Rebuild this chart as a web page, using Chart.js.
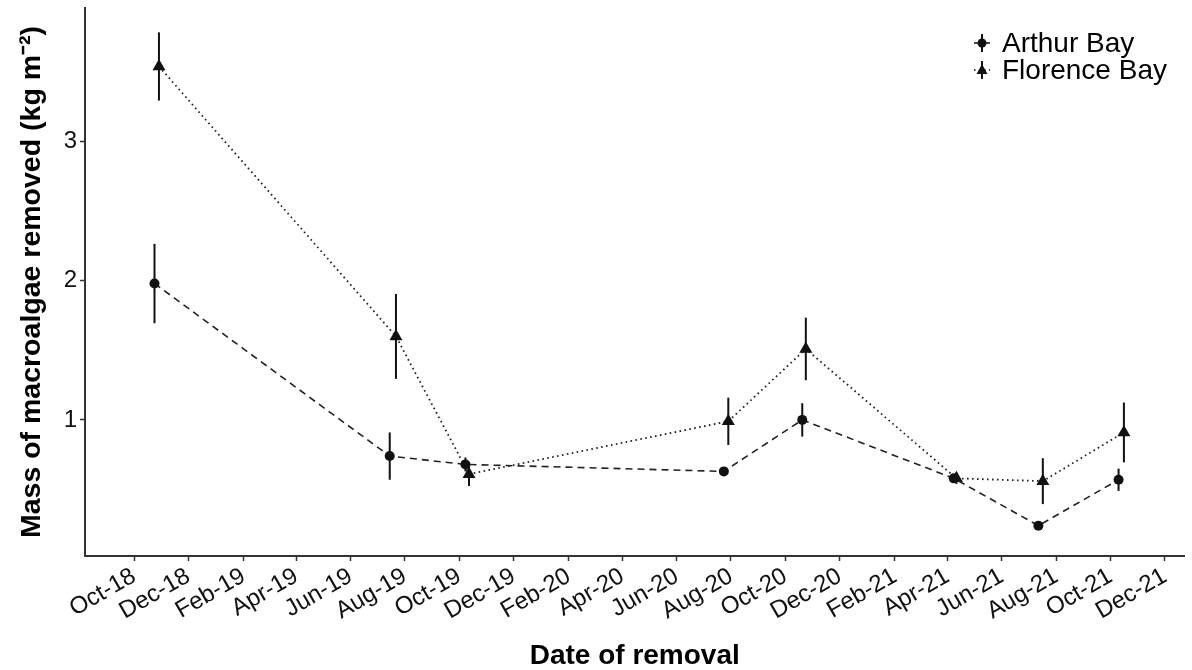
<!DOCTYPE html>
<html>
<head>
<meta charset="utf-8">
<title>Macroalgae removal</title>
<script src="https://cdn.jsdelivr.net/npm/chart.js@4.4.1/dist/chart.umd.min.js"></script>
<style>
  html, body { margin: 0; padding: 0; background: #fff; }
  #wrap { width: 1192px; height: 670px; }
</style>
</head>
<body>
<div id="wrap"><canvas id="chart" width="1192" height="670"></canvas></div>
<script>
// ---- Data: mean mass removed per site visit, with standard errors ----
const arthurDates = ['2018-10-24', '2019-07-15', '2019-10-08', '2020-07-24', '2020-10-20', '2021-04-08', '2021-07-12', '2021-10-10'];
const arthurMass  = [1.98, 0.74, 0.68, 0.63, 1.00, 0.58, 0.24, 0.57];
const arthurSE    = [0.285, 0.17, 0.05, 0.02, 0.12, 0.025, 0.02, 0.08];

const florenceDates = ['2018-10-29', '2019-07-22', '2019-10-12', '2020-07-29', '2020-10-24', '2021-04-11', '2021-07-17', '2021-10-16'];
const florenceMass  = [3.54, 1.60, 0.61, 0.99, 1.51, 0.58, 0.56, 0.91];
const florenceSE    = [0.245, 0.305, 0.085, 0.17, 0.225, 0.04, 0.165, 0.215];

const tickMonths = ['2018-10', '2018-12', '2019-02', '2019-04', '2019-06', '2019-08', '2019-10', '2019-12',
                    '2020-02', '2020-04', '2020-06', '2020-08', '2020-10', '2020-12',
                    '2021-02', '2021-04', '2021-06', '2021-08', '2021-10', '2021-12'];
const yTicks = [1, 2, 3];
const monthNames = ['Jan', 'Feb', 'Mar', 'Apr', 'May', 'Jun', 'Jul', 'Aug', 'Sep', 'Oct', 'Nov', 'Dec'];

const FONT = "'Liberation Sans', Arial, Helvetica, sans-serif";
const INK = '#111';

// days since epoch, so a plain linear scale can carry the dates
const toDay = s => {
  const [y, m, d] = s.split('-').map(Number);
  return Date.UTC(y, m - 1, d || 1) / 864e5;
};
const monthLabel = s => {
  const [y, m] = s.split('-');
  return monthNames[+m - 1] + '-' + y.slice(2);
};
const points = (dates, vals) => dates.map((d, i) => ({ x: toDay(d), y: vals[i] }));

// ---- Vertical error bars (mean +/- SE) ----
const errorBars = {
  id: 'errorBars',
  afterDatasetsDraw(chart) {
    const { ctx, scales: { x, y } } = chart;
    ctx.save();
    ctx.strokeStyle = INK;
    ctx.lineWidth = 2;
    chart.data.datasets.forEach(ds => {
      ds.data.forEach((p, i) => {
        const px = x.getPixelForValue(p.x);
        ctx.beginPath();
        ctx.moveTo(px, y.getPixelForValue(p.y - ds.errors[i]));
        ctx.lineTo(px, y.getPixelForValue(p.y + ds.errors[i]));
        ctx.stroke();
      });
    });
    ctx.restore();
  }
};

// ---- Legend in the top-right corner, ggplot style ----
const siteLegend = {
  id: 'siteLegend',
  afterDraw(chart) {
    const { ctx } = chart;
    const gx = 982, tx = 1002;
    ctx.save();
    chart.data.datasets.forEach((ds, i) => {
      const cy = 43 + i * 27;
      ctx.strokeStyle = INK;
      ctx.lineWidth = 1.5;
      ctx.setLineDash(ds.borderDash);
      ctx.beginPath();
      ctx.moveTo(gx - 8, cy);
      ctx.lineTo(gx + 8, cy);
      ctx.stroke();
      ctx.setLineDash([]);
      ctx.lineWidth = 2;
      ctx.beginPath();
      ctx.moveTo(gx, cy - 9);
      ctx.lineTo(gx, cy + 9);
      ctx.stroke();
      ctx.fillStyle = INK;
      ctx.beginPath();
      if (ds.pointStyle === 'circle') {
        ctx.arc(gx, cy, 4.5, 0, Math.PI * 2);
      } else {
        ctx.moveTo(gx, cy - 6);
        ctx.lineTo(gx + 5.5, cy + 4);
        ctx.lineTo(gx - 5.5, cy + 4);
        ctx.closePath();
      }
      ctx.fill();
      ctx.fillStyle = '#000';
      ctx.font = '28px ' + FONT;
      ctx.textBaseline = 'middle';
      ctx.fillText(ds.label, tx, cy + 1);
    });
    ctx.restore();
  }
};

const axisGrid = { display: true, drawOnChartArea: false, drawTicks: true, tickLength: 5, tickColor: '#333', tickWidth: 1.5 };
const axisBorder = { display: true, color: '#333', width: 2 };

new Chart(document.getElementById('chart'), {
  type: 'line',
  data: {
    datasets: [
      {
        label: 'Arthur Bay',
        data: points(arthurDates, arthurMass),
        errors: arthurSE,
        borderColor: '#222',
        borderWidth: 1.6,
        borderDash: [7, 5],
        pointStyle: 'circle',
        pointRadius: 5,
        pointBackgroundColor: INK,
        pointBorderColor: INK,
        pointBorderWidth: 0,
        tension: 0
      },
      {
        label: 'Florence Bay',
        data: points(florenceDates, florenceMass),
        errors: florenceSE,
        borderColor: '#222',
        borderWidth: 1.8,
        borderDash: [1.6, 3.4],
        pointStyle: 'triangle',
        pointRadius: 7.5,
        pointBackgroundColor: INK,
        pointBorderColor: INK,
        pointBorderWidth: 0,
        tension: 0
      }
    ]
  },
  options: {
    responsive: false,
    animation: false,
    devicePixelRatio: 1,
    layout: { padding: { top: 8, right: 3, left: 0, bottom: 0 } },
    plugins: { legend: { display: false }, tooltip: { enabled: false } },
    scales: {
      x: {
        type: 'linear',
        min: toDay('2018-08-07'),
        max: toDay('2021-12-23'),
        afterBuildTicks: s => { s.ticks = tickMonths.map(m => ({ value: toDay(m + '-01') })); },
        afterFit: s => { s.height = 114; s.paddingLeft = 0; s.paddingRight = 0; },
        ticks: {
          autoSkip: false,
          minRotation: 30,
          maxRotation: 30,
          padding: 1,
          color: INK,
          font: { family: FONT, size: 24 },
          callback: (v, i) => monthLabel(tickMonths[i])
        },
        grid: axisGrid,
        border: axisBorder,
        title: {
          display: true,
          text: 'Date of removal',
          color: '#000',
          font: { family: FONT, size: 28, weight: 'bold', lineHeight: 1 },
          padding: { top: 0, bottom: 0 }
        }
      },
      y: {
        min: 0.022,
        max: 3.96,
        afterBuildTicks: s => { s.ticks = yTicks.map(v => ({ value: v })); },
        afterFit: s => { s.width = 85; s.paddingTop = 0; s.paddingBottom = 0; },
        ticks: {
          padding: 3,
          color: INK,
          font: { family: FONT, size: 24 },
          callback: v => String(v)
        },
        grid: axisGrid,
        border: axisBorder,
        title: {
          display: true,
          text: 'Mass of macroalgae removed (kg m\u207B\u00B2)',
          color: '#000',
          font: { family: FONT, size: 28.5, weight: 'bold', lineHeight: 1 },
          padding: { top: 18, bottom: 0 }
        }
      }
    }
  },
  plugins: [errorBars, siteLegend]
});
</script>
</body>
</html>
